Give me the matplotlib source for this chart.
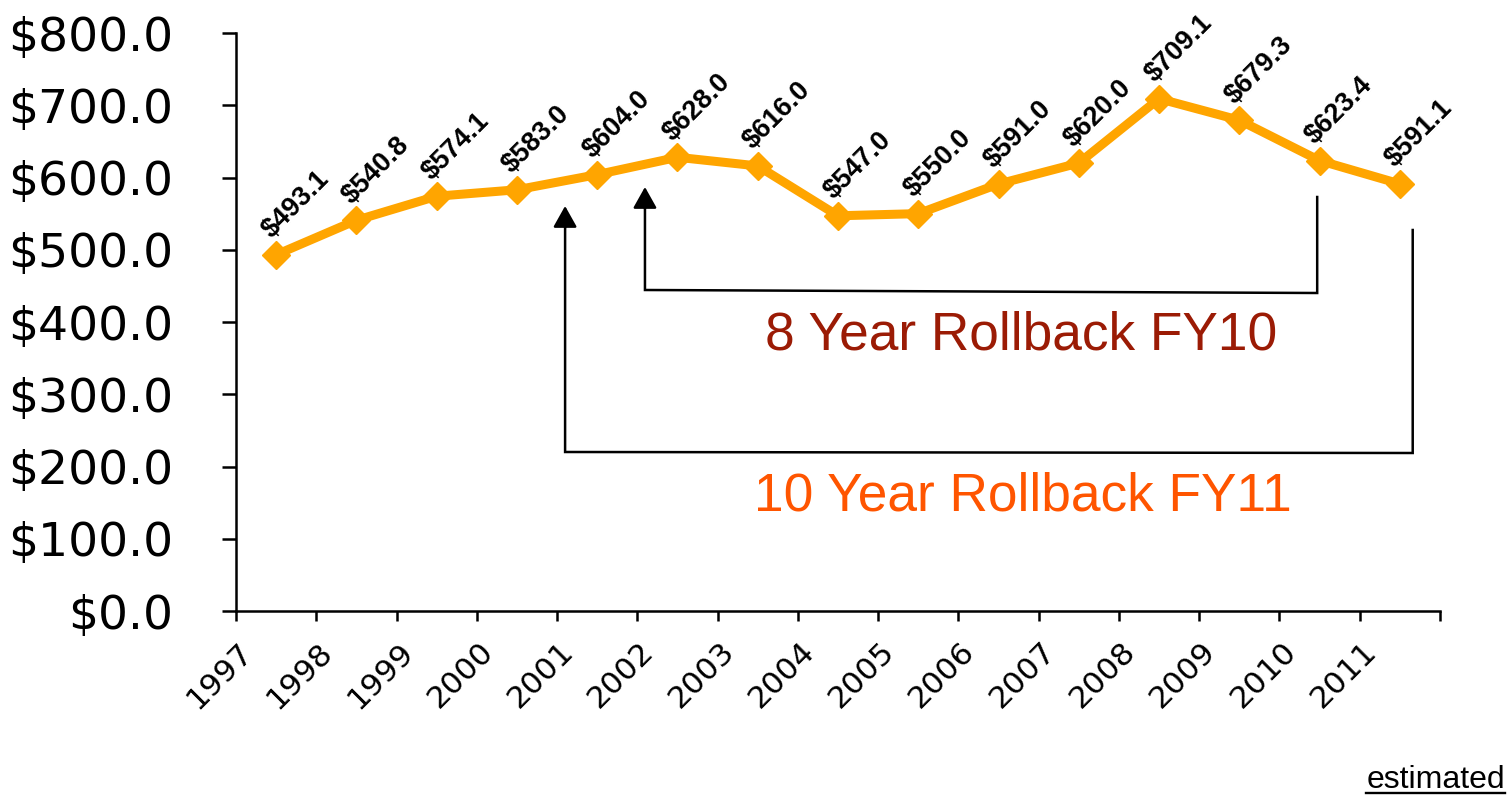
import numpy as np
import matplotlib
matplotlib.use("Agg")
import matplotlib.pyplot as plt
from matplotlib.lines import Line2D
from matplotlib.ticker import FuncFormatter

# ---- data ----
years = ["1997", "1998", "1999", "2000", "2001", "2002", "2003", "2004",
         "2005", "2006", "2007", "2008", "2009", "2010", "2011"]
values = [493.1, 540.8, 574.1, 583.0, 604.0, 628.0, 616.0, 547.0,
          550.0, 591.0, 620.0, 709.1, 679.3, 623.4, 591.1]
y_ticks = [0, 100, 200, 300, 400, 500, 600, 700, 800]

LINE_COLOR = "#FFA500"
TICK_FONT = "DejaVu Sans"
TEXT_FONT = "Liberation Sans"

W, H = 1511, 795
fig = plt.figure(figsize=(W / 100, H / 100), dpi=100)
ax = fig.add_axes([236 / W, 1 - 611 / H, (1440 - 236) / W, (611 - 33) / H])

x = np.arange(len(years))
ax.plot(x, values, color=LINE_COLOR, lw=6.5, marker="D", ms=14,
        solid_joinstyle="miter", zorder=3, clip_on=False)

# value labels above each point
for xi, v in zip(x, values):
    ax.annotate(f"${v:.1f}", xy=(xi, v), xytext=(14, 36),
                textcoords="offset points", rotation=45,
                ha="center", va="center", fontsize=19.5, fontweight="bold",
                family=TEXT_FONT, color="black", zorder=4)

# axes
ax.set_xlim(-0.5, len(years) - 0.5)
ax.set_ylim(0, 800)
ax.set_yticks(y_ticks)
ax.yaxis.set_major_formatter(FuncFormatter(lambda v, _: f"${v:.1f}"))
for lab in ax.get_yticklabels():
    lab.set_family(TICK_FONT)
ax.tick_params(axis="y", length=10, width=1.8, pad=35, labelsize=34)

# tick marks between categories, year labels slanted under them
ax.set_xticks(np.arange(len(years) + 1) - 0.5, minor=True)
ax.set_xticks(x - 0.35)
ax.set_xticklabels(years, rotation=45, ha="right", va="center",
                   rotation_mode="anchor", family=TICK_FONT, fontsize=22.5)
ax.tick_params(axis="x", which="major", length=0, pad=26)
ax.tick_params(axis="x", which="minor", length=7, width=1.8)

for s in ("top", "right"):
    ax.spines[s].set_visible(False)
for s in ("left", "bottom"):
    ax.spines[s].set_linewidth(1.8)


def to_val(py):
    """Convert a pixel row inside the plot area to a value on the y axis."""
    return (611 - py) * 800 / 578


def bracket(x_left, x_right, y_tip, y_left_bot, y_right_bot, y_right_top):
    ax.plot([x_right, x_right, x_left, x_left],
            [y_right_top, y_right_bot, y_left_bot, y_tip - 14],
            color="black", lw=1.8, solid_joinstyle="miter",
            clip_on=False, zorder=2)
    ax.annotate("", xy=(x_left, y_tip), xytext=(x_left, y_tip - 30),
                arrowprops=dict(arrowstyle="-|>,head_length=0.5,head_width=0.28",
                                color="black", lw=1.8, mutation_scale=26,
                                shrinkA=0, shrinkB=0), zorder=2)


i01, i02 = years.index("2001"), years.index("2002")
i10, i11 = years.index("2010"), years.index("2011")
# 8 year rollback: from FY02 to FY10
bracket(i02 - 0.405, i10 - 0.03, to_val(187), to_val(290), to_val(293), to_val(197))
# 10 year rollback: from FY01 to FY11
bracket(i01 - 0.40, i11 + 0.16, to_val(206), to_val(452), to_val(453), to_val(230))

ax.text(0.652, 0.4516, "8 Year Rollback FY10", transform=ax.transAxes,
        ha="center", va="baseline", fontsize=38.3, family=TEXT_FONT,
        color="#9B1B05")
ax.text(0.6536, 0.1747, "10 Year Rollback FY11", transform=ax.transAxes,
        ha="center", va="baseline", fontsize=38.3, family=TEXT_FONT,
        color="#FF5500")

# underlined footnote
base_px = 6.5
note = fig.text(1505 / W, base_px / H, "estimated", ha="right", va="baseline",
                fontsize=23, family=TEXT_FONT, color="black")
fig.canvas.draw()
bb = note.get_window_extent()
uy = 2.5 / H
fig.add_artist(Line2D([bb.x0 / W, bb.x1 / W], [uy, uy], color="black", lw=1.7,
                      transform=fig.transFigure))

fig.savefig("out.png", dpi=100, facecolor="white")
